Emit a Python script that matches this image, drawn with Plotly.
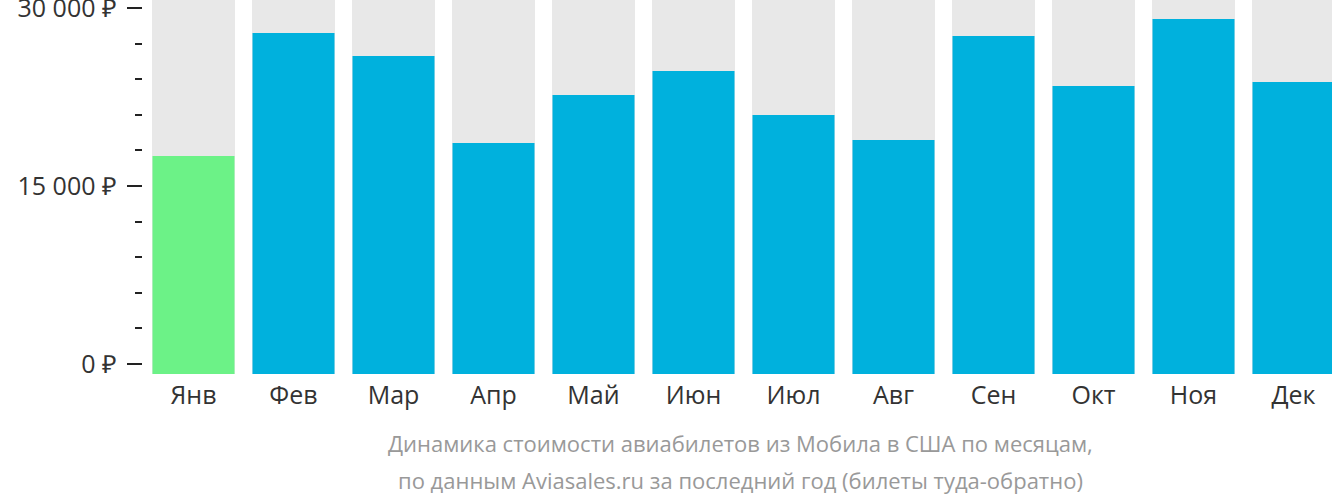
import plotly.graph_objects as go

months = ["Янв", "Фев", "Мар", "Апр", "Май", "Июн", "Июл", "Авг", "Сен", "Окт", "Ноя", "Дек"]
prices = [17530, 27890, 25960, 18620, 22670, 24690, 20980, 18880, 27640, 23430, 29070, 23760]
tick_vals = [0, 15000, 30000]
tick_text = ["0 ₽", "15 000 ₽", "30 000 ₽"]
caption = ["Динамика стоимости авиабилетов из Мобила в США по месяцам,",
           "по данным Aviasales.ru за последний год (билеты туда-обратно)"]

y_min, y_max = -843, 30674
min_idx = prices.index(min(prices))
colors = ["#6cf287" if i == min_idx else "#00b1dd" for i in range(len(prices))]

fig = go.Figure()
fig.add_trace(go.Bar(x=months, y=[y_max - y_min] * len(months), base=y_min,
                     marker=dict(color="#e8e8e8", line=dict(width=0)), width=0.83,
                     hoverinfo="skip", showlegend=False))
fig.add_trace(go.Bar(x=months, y=[p - y_min for p in prices], base=y_min,
                     marker=dict(color=colors, line=dict(width=0)), width=0.82,
                     customdata=prices, hovertemplate="%{x}: %{customdata} ₽<extra></extra>",
                     showlegend=False))

fig.update_layout(
    width=1332, height=502,
    margin=dict(l=143, r=0, t=0, b=128, autoexpand=False),
    barmode="overlay",
    plot_bgcolor="white", paper_bgcolor="white",
    font=dict(family="Open Sans", size=24, color="#333333"),
    xaxis=dict(range=[-0.505, 11.385], showgrid=False, zeroline=False, showline=False,
               automargin=False,
               ticks="", tickfont=dict(size=25, color="#333333"), ticklabelstandoff=4),
    yaxis=dict(range=[y_min, y_max], showgrid=False, zeroline=False, showline=False,
               automargin=False,
               tickvals=tick_vals, ticktext=tick_text, ticks="outside", ticklen=15,
               tickwidth=2, tickcolor="#222222", ticklabelstandoff=5,
               ticklabeloverflow="allow",
               tickfont=dict(size=25, color="#333333"),
               minor=dict(dtick=3000, tick0=0, ticks="outside", ticklen=7, tickwidth=2,
                          tickcolor="#222222", showgrid=False)),
)

for i, line in enumerate(caption):
    fig.add_annotation(text=line, xref="paper", yref="paper",
                       x=(741 - 143) / 1189, y=-(443 + 37 * i - 374) / 374,
                       xanchor="center", yanchor="middle", showarrow=False,
                       font=dict(family="Open Sans", size=22, color="#999999"))

fig.write_html("out.html")
